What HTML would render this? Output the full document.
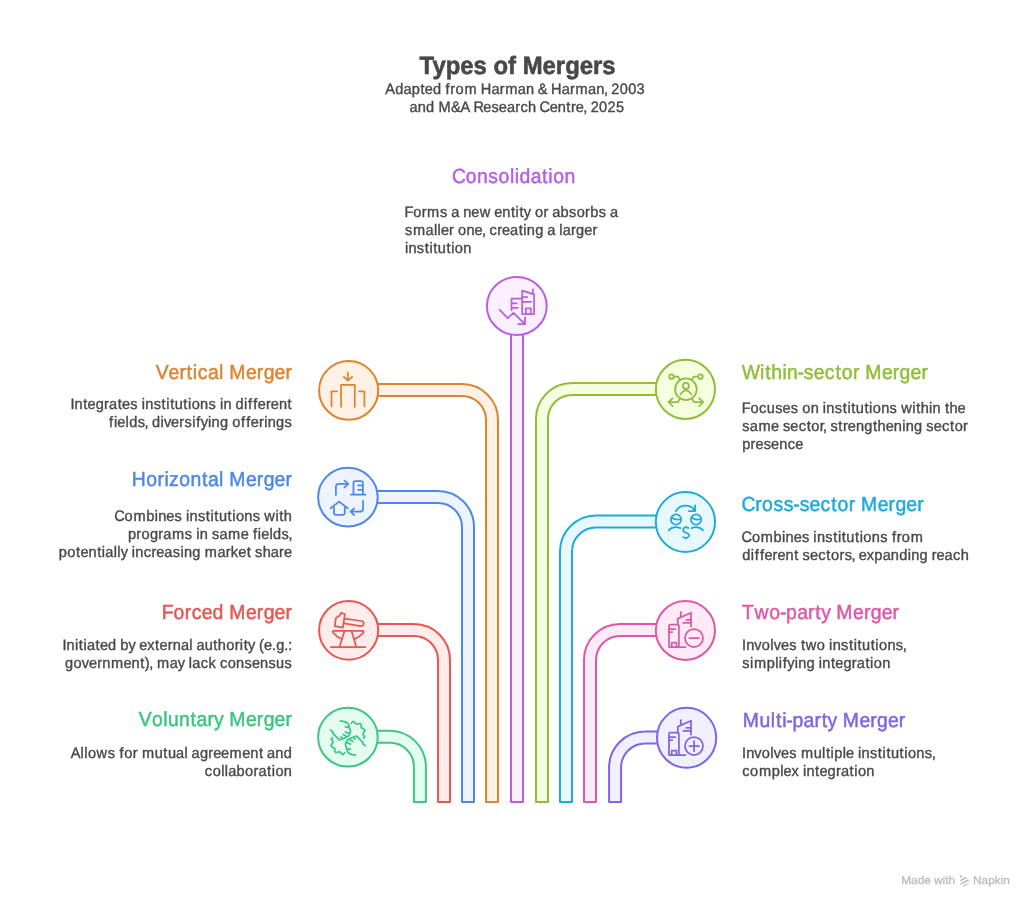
<!DOCTYPE html>
<html lang="en">
<head>
<meta charset="utf-8">
<title>Types of Mergers</title>
<style>
html,body{margin:0;padding:0;background:#fff;}
body{width:1034px;height:908px;overflow:hidden;}
svg{display:block;will-change:transform;}
text{font-family:"Liberation Sans", Arial, sans-serif;text-rendering:geometricPrecision;}
.pipe{stroke-width:2;stroke-linejoin:round;stroke-linecap:round;}
.ic{fill:none;stroke-width:1.75;stroke-linecap:round;stroke-linejoin:round;}
.b{font-size:15.1px;fill:#484848;stroke:#484848;stroke-width:0.38px;}
.h{font-size:20.4px;stroke-width:0.5px;}
.w{font-size:11.2px;fill:#bbbbbb;stroke:#bbbbbb;stroke-width:0.3px;}
.t{font-size:25px;font-weight:bold;fill:#484848;stroke:#484848;stroke-width:0.6px;}
</style>
</head>
<body>
<svg width="1034" height="908" viewBox="0 0 1034 908">
<rect width="1034" height="908" fill="#ffffff"/>
<g id="pipes">
<path class="pipe" d="M348,730.8 H389.9 A36,36 0 0 1 425.9,766.8 V802 H413.9 V766.8 A24,24 0 0 0 389.9,742.8 H348" fill="#e5fdf0" stroke="#3cc583"/>
<path class="pipe" d="M348,624 H414 A36,36 0 0 1 450,660 V802 H438 V660 A24,24 0 0 0 414,636 H348" fill="#ffeceb" stroke="#e55753"/>
<path class="pipe" d="M348,491 H438 A36,36 0 0 1 474,527 V802 H462 V527 A24,24 0 0 0 438,503 H348" fill="#edf4ff" stroke="#4e88e7"/>
<path class="pipe" d="M348,384 H462 A36,36 0 0 1 498,420 V802 H486 V420 A24,24 0 0 0 462,396 H348" fill="#fff1e4" stroke="#de8431"/>
<path class="pipe" d="M511,306 V802 H523 V306" fill="#faf0ff" stroke="#ba5de5"/>
<path class="pipe" d="M686,382.9 H572 A36,36 0 0 0 536,418.9 V802 H548 V418.9 A24,24 0 0 1 572,394.9 H686" fill="#f5fedf" stroke="#92bd39"/>
<path class="pipe" d="M686,515.4 H596 A36,36 0 0 0 560,551.4 V802 H572 V551.4 A24,24 0 0 1 596,527.4 H686" fill="#e8f8ff" stroke="#1eabda"/>
<path class="pipe" d="M686,624 H620 A36,36 0 0 0 584,660 V802 H596 V660 A24,24 0 0 1 620,636 H686" fill="#feebf6" stroke="#de58a9"/>
<path class="pipe" d="M686,731.4 H645.1 A36,36 0 0 0 609.1,767.4 V802 H621.1 V767.4 A24,24 0 0 1 645.1,743.4 H686" fill="#f1f0ff" stroke="#7f64ea"/>
</g>
<g id="nodes">
<ellipse cx="347.9" cy="737.2" rx="29.8" ry="29.4" fill="#e5fdf0" stroke="#3cc583" stroke-width="2"/>
<g class="ic" stroke="#3cc583"><g transform="translate(328,718) scale(0.044053)" stroke-width="39.73"><path d="M280,68 C291.7,69.2 326.7,69.7 350,75 C373.3,80.3 400.3,87.5 420,100 C439.7,112.5 458.0,132.5 468,150 C478.0,167.5 472.7,180.0 480,205 C487.3,230.0 512.3,268.3 512,300 C511.7,331.7 490.0,374.2 478,395 C466.0,415.8 463.0,412.5 440,425 C417.0,437.5 370.3,458.3 340,470 C309.7,481.7 271.7,490.8 258,495 M258,495 L110,350 L122,325 L60,275 M398,200 L478,212 M395,315 L478,352 M345,375 L425,418 M295,430 L335,470"/><path d="M530,120 C537.5,112.5 559.2,73.7 575,75 C590.8,76.3 610.0,117.7 625,128 C640.0,138.3 647.8,137.5 665,137 C682.2,136.5 712.8,121.2 728,125 C743.2,128.8 752.0,145.0 756,160 C760.0,175.0 744.7,200.8 752,215 C759.3,229.2 785.3,233.8 800,245 C814.7,256.2 839.7,266.5 840,282 C840.3,297.5 808.7,321.3 802,338 C795.3,354.7 794.5,367.5 800,382 C805.5,396.5 833.3,412.8 835,425 C836.7,437.2 814.2,450.0 810,455"/><g transform="rotate(180 454 454)"><path d="M280,68 C291.7,69.2 326.7,69.7 350,75 C373.3,80.3 400.3,87.5 420,100 C439.7,112.5 458.0,132.5 468,150 C478.0,167.5 472.7,180.0 480,205 C487.3,230.0 512.3,268.3 512,300 C511.7,331.7 490.0,374.2 478,395 C466.0,415.8 463.0,412.5 440,425 C417.0,437.5 370.3,458.3 340,470 C309.7,481.7 271.7,490.8 258,495 M258,495 L110,350 L122,325 L60,275 M398,200 L478,212 M395,315 L478,352 M345,375 L425,418 M295,430 L335,470"/><path d="M530,120 C537.5,112.5 559.2,73.7 575,75 C590.8,76.3 610.0,117.7 625,128 C640.0,138.3 647.8,137.5 665,137 C682.2,136.5 712.8,121.2 728,125 C743.2,128.8 752.0,145.0 756,160 C760.0,175.0 744.7,200.8 752,215 C759.3,229.2 785.3,233.8 800,245 C814.7,256.2 839.7,266.5 840,282 C840.3,297.5 808.7,321.3 802,338 C795.3,354.7 794.5,367.5 800,382 C805.5,396.5 833.3,412.8 835,425 C836.7,437.2 814.2,450.0 810,455"/></g></g></g>
<ellipse cx="348.65" cy="630.35" rx="29.55" ry="29.4" fill="#ffeceb" stroke="#e55753" stroke-width="2"/>
<g class="ic" stroke="#e55753"><path d="M330.7,647 H365.4"/><path d="M333.7,630.9 H362.65 M333.7,630.9 Q332.3,630.9 332.9,632.5 Q336.3,636.6 341.4,638.9 M362.65,630.9 Q364.1,630.9 363.5,632.5 Q360.1,636.6 355,638.9"/><path d="M344.5,630.9 L339.5,647 M351.6,630.9 L356.3,647"/><path d="M340.9,612.9 L344.9,614 L342.9,627.6 L334.8,626.2 L335.9,617.9 L339.8,615.5 Z"/><path d="M344.6,618.6 L361.5,621 Q364.2,621.6 363.7,623.9 Q363.2,626.4 360.7,626.2 L344.0,623.3"/></g>
<ellipse cx="347.9" cy="497.2" rx="29.8" ry="29.4" fill="#edf4ff" stroke="#4e88e7" stroke-width="2"/>
<g class="ic" stroke="#4e88e7"><path d="M335.9,495 V486.8 Q335.9,483.85 338.9,483.85 H348.3 M344.5,480.7 L348.3,483.85 L344.5,487.3"/><path d="M353.45,494.5 V483 Q353.45,481.15 355.3,481.15 H361 Q362.9,481.15 362.9,483 V494.5 M350.8,494.5 H365.4 M358.2,485.4 H362.9 M358.2,489.8 H362.9"/><path d="M330.7,508.2 L339.1,501.6 L347.8,508.2 M334,505.7 V513.3 Q334,514.85 335.5,514.85 H343.2 Q344.75,514.85 344.75,513.3 V505.8"/><path d="M363.1,500.8 V508.5 Q363.1,511.5 360.1,511.5 H350.5 M354.1,508.5 L350.5,511.5 L354.1,515.1"/></g>
<ellipse cx="348.65" cy="390.4" rx="29.55" ry="29.4" fill="#fff1e4" stroke="#de8431" stroke-width="2"/>
<g class="ic" stroke="#de8431"><path d="M347.9,372.7 V380.7 M343.9,376.8 L347.9,380.7 L352.2,376.8"/><path d="M341.1,406.8 V384.8 H354.8 V406.8"/><path d="M331.5,406.3 V391.3 H337"/><path d="M364.4,406.3 V391.3 H359"/></g>
<ellipse cx="516.8" cy="306.0" rx="29.9" ry="29.0" fill="#faf0ff" stroke="#ba5de5" stroke-width="2"/>
<g class="ic" stroke="#ba5de5"><path d="M522.2,314 V290.6 L534.1,294.3 V314 Z"/><path d="M532.9,289.3 V293.8"/><path d="M522.2,297.2 H527.2 M522.2,301.8 H531.1"/><path d="M525.9,314 V308.3 H530.8 V314"/><path d="M511.5,310.2 V298.6 H522.2 M511.5,303.3 H516.8 M511.5,307.8 H517.9"/><path d="M499.7,309.9 L507.7,318.2 L513.5,312.8 L525,324.2 M518.2,324.2 H525 V317.3"/></g>
<ellipse cx="685.4" cy="389.35" rx="29.6" ry="29.55" fill="#f5fedf" stroke="#92bd39" stroke-width="2"/>
<g class="ic" stroke="#92bd39"><circle cx="685.9" cy="389.2" r="10.8"/><circle cx="685.9" cy="385.9" r="3"/><path d="M680.5,394.4 Q685.9,386.1 691.4,394.4"/><circle cx="671.5" cy="376.7" r="2.25"/><path d="M673.9,376.7 H678.1 L680.2,380.2"/><circle cx="700.5" cy="376.7" r="2.25"/><path d="M698.1,376.7 H693.8 L691.6,380.2"/><path d="M680,398.4 L678.1,402 H668.7 M672.5,398.3 L668.7,402 L672.5,406"/><path d="M691.8,398.4 L694,402 H703.1 M699.3,398.3 L703.1,402 L699.3,406"/></g>
<ellipse cx="685.4" cy="522.0" rx="29.6" ry="29.9" fill="#e8f8ff" stroke="#1eabda" stroke-width="2"/>
<g class="ic" stroke="#1eabda"><path d="M675.8,511.3 A11.3,11.3 0 0 1 695.1,511 M695.1,505.3 V511 H688.8"/><circle cx="676" cy="519.6" r="5.15"/><path d="M671.6,517.3 C674,519.5 678,520 681.2,519"/><path d="M668.7,530.3 Q673.5,525.6 680.3,528.1"/><circle cx="696.1" cy="519.6" r="5.15"/><path d="M691.7,517.3 C694,519.5 698,520 701.3,519"/><path d="M691.6,528.1 Q698.4,525.6 703.1,530.3"/><path d="M688.5,528 C686,526.5 683,527.5 683,530 C683,533 689.1,532.5 689.1,535.3 C689.1,538 686,538.3 683.3,537.2 M685.8,526.6 V527.1 M685.8,538 V538.5"/></g>
<ellipse cx="685.4" cy="630.5" rx="29.6" ry="29.4" fill="#feebf6" stroke="#de58a9" stroke-width="2"/>
<g class="ic" stroke="#de58a9"><path d="M669,647.10 V626.00 Q669,624.50 670.5,624.50 H677.4 Q678.9,624.50 678.9,626.00 V647.10 M669,647.10 H685.5"/><path d="M669,629.06 H675.3 M669,632.00 H672.3"/><path d="M671.7,647.10 V642.70 H676.4 V647.10"/><path d="M677.8,624.50 V618.60 L691,612.70 V626.50"/><path d="M680.8,612.20 V616.80"/><path d="M686.3,619.90 H691 M683.3,622.90 H691"/><circle cx="694" cy="638.00" r="9"/><path d="M689.4,638.00 H699"/></g>
<ellipse cx="686.6" cy="737.8" rx="29.6" ry="30.0" fill="#f1f0ff" stroke="#7f64ea" stroke-width="2"/>
<g class="ic" stroke="#7f64ea"><path d="M669,755.10 V734.00 Q669,732.50 670.5,732.50 H677.4 Q678.9,732.50 678.9,734.00 V755.10 M669,755.10 H685.5"/><path d="M669,737.06 H675.3 M669,740.00 H672.3"/><path d="M671.7,755.10 V750.70 H676.4 V755.10"/><path d="M677.8,732.50 V726.60 L691,720.70 V734.50"/><path d="M680.8,720.20 V724.80"/><path d="M686.3,727.90 H691 M683.3,730.90 H691"/><circle cx="694" cy="746.00" r="9"/><path d="M689.4,746.00 H699"/><path d="M694.1,741.2 V751.2"/></g>
</g>
<g id="labels">
<text class="t" x="419.61" y="73.70" textLength="196.02" lengthAdjust="spacingAndGlyphs">Types of Mergers</text>
<text class="b" transform="scale(0.965,1)" x="399.21 409.50 418.11 426.69 435.69 440.25 448.75 457.16 461.78 466.69 472.07 481.22 494.15 498.27 509.29 517.83 523.50 536.63 545.15 553.46 557.28 566.97 571.08 582.11 590.65 596.32 609.45 617.96 625.88 629.33 633.51 642.24 650.97 659.70" y="93.80">Adapted from Harman &amp; Harman, 2003</text>
<text class="b" transform="scale(0.965,1)" x="424.38 432.90 441.57 449.98 454.49 467.36 477.27 487.20 490.55 500.71 509.26 516.96 525.30 533.85 539.28 547.21 555.51 559.14 569.57 577.98 586.91 591.66 596.72 604.46 607.91 612.10 620.83 629.56 638.29" y="111.80">and M&amp;A Research Centre, 2025</text>
<text class="h" transform="scale(0.95,1)" x="475.80 490.35 502.16 513.97 524.83 536.79 541.90 546.98 558.65 570.65 577.21 582.36 594.17" y="182.95" fill="#ba5de5" stroke="#ba5de5">Consolidation</text>
<text class="b" transform="scale(0.965,1)" x="419.06 428.20 436.95 442.62 455.95 463.56 467.61 475.86 479.97 488.38 497.08 508.20 512.14 520.54 529.47 534.32 538.32 542.86 550.14 554.39 563.14 568.11 572.16 580.75 589.54 597.56 606.30 611.61 620.40 628.01 632.06" y="216.60">Forms a new entity or absorbs a</text>
<text class="b" transform="scale(0.965,1)" x="419.61 427.92 441.05 449.68 453.45 456.93 465.37 470.34 474.59 483.31 491.72 499.46 502.91 507.23 515.19 520.25 528.59 537.46 542.31 545.96 554.61 562.99 567.04 575.30 579.53 583.12 591.66 596.97 605.45 613.88" y="234.60">smaller one, creating a larger</text>
<text class="b" transform="scale(0.965,1)" x="419.59 423.24 431.96 440.18 445.03 449.03 453.75 462.68 467.52 471.32 480.04" y="252.60">institution</text>
<text class="h" transform="scale(0.95,1)" x="164.07 177.47 188.89 196.45 203.01 208.24 218.90 230.59 235.18 241.32 258.91 270.32 277.51 289.00 300.41" y="378.65" fill="#de8431" stroke="#de8431">Vertical Merger</text>
<text class="b" transform="scale(0.965,1)" x="72.95 77.25 86.18 90.74 99.21 107.89 113.06 121.93 126.49 135.03 142.64 146.87 150.53 159.25 167.47 172.31 176.32 181.04 189.97 194.81 198.61 207.33 216.05 223.66 227.89 231.54 239.85 244.06 252.85 257.01 262.41 267.13 275.56 280.62 289.03 297.95" y="409.40">Integrates institutions in different</text>
<text class="b" transform="scale(0.965,1)" x="113.08 118.08 121.57 130.09 133.84 142.65 149.86 153.31 157.52 166.31 169.86 177.32 185.75 191.13 199.12 203.29 207.98 215.64 219.30 227.95 236.33 240.59 249.82 255.22 259.93 268.36 273.72 277.37 286.02 294.81" y="427.40">fields, diversifying offerings</text>
<text class="h" transform="scale(0.95,1)" x="138.80 154.01 165.85 173.10 178.03 188.68 200.49 212.58 218.90 230.59 235.18 241.32 258.91 270.32 277.51 289.00 300.41" y="486.45" fill="#4e88e7" stroke="#4e88e7">Horizontal Merger</text>
<text class="b" transform="scale(0.965,1)" x="118.32 129.07 138.22 151.49 160.25 163.91 172.31 180.86 188.47 192.70 196.35 205.07 213.30 218.14 222.15 226.87 235.79 240.64 244.44 253.16 261.88 269.48 273.89 285.39 289.39 294.11" y="520.60">Combines institutions with</text>
<text class="b" transform="scale(0.965,1)" x="132.60 141.28 146.66 155.45 164.12 169.30 178.24 191.58 199.19 203.42 207.07 215.38 219.64 227.45 236.40 249.42 257.56 262.18 267.19 270.67 279.19 282.94 291.76 298.97" y="538.60">programs in same fields,</text>
<text class="b" transform="scale(0.965,1)" x="60.95 69.75 78.82 83.37 91.78 100.71 105.55 109.15 117.78 121.55 125.02 132.30 136.53 140.18 148.96 156.92 161.98 170.33 178.99 186.98 190.63 199.28 207.67 212.21 225.34 233.88 239.19 246.82 255.58 260.04 264.30 272.16 280.67 289.21 294.27" y="556.60">potentially increasing market share</text>
<text class="h" transform="scale(0.95,1)" x="170.19 182.57 194.41 201.78 212.29 223.80 235.18 241.32 258.91 270.32 277.51 289.00 300.41" y="619.25" fill="#e55753" stroke="#e55753">Forced Merger</text>
<text class="b" transform="scale(0.965,1)" x="64.65 68.95 77.65 81.65 86.50 90.09 98.96 103.51 112.01 120.42 124.60 133.06 140.34 144.28 152.68 160.74 165.30 173.73 178.97 187.48 196.12 199.51 203.56 212.07 220.99 225.71 234.42 243.17 248.52 252.53 257.07 264.35 268.51 273.61 281.87 286.18 294.68 298.61" y="649.80">Initiated by external authority (e.g.:</text>
<text class="b" transform="scale(0.965,1)" x="67.38 76.17 84.79 92.25 100.68 105.91 114.92 127.94 136.35 145.28 150.10 154.74 158.19 162.74 175.87 184.20 191.48 195.71 199.30 208.02 216.03 223.57 227.88 235.96 244.68 253.40 261.10 269.50 278.22 286.09 294.81" y="667.80">government), may lack consensus</text>
<text class="h" transform="scale(0.95,1)" x="146.16 159.99 171.96 176.91 188.52 200.60 206.93 218.49 225.33 235.18 241.32 258.91 270.32 277.51 289.00 300.41" y="726.45" fill="#3cc583" stroke="#3cc583">Voluntary Merger</text>
<text class="b" transform="scale(0.965,1)" x="73.19 83.51 87.28 91.07 100.09 111.61 119.22 123.84 128.87 137.62 142.59 147.13 160.32 169.25 173.97 182.48 191.11 194.50 198.55 207.14 215.82 220.88 229.12 237.95 250.97 259.38 268.31 272.77 276.82 285.34 294.01" y="757.80">Allows for mutual agreement and</text>
<text class="b" transform="scale(0.965,1)" x="212.29 220.37 229.21 232.98 236.57 245.16 253.95 262.70 267.87 276.74 281.59 285.38 294.10" y="775.80">collaboration</text>
<text class="h" transform="scale(0.95,1)" x="780.76 800.02 805.44 811.84 823.60 828.56 839.54 846.17 856.60 868.26 879.48 886.08 897.92 904.65 910.79 928.38 939.79 946.98 958.46 969.88" y="378.65" fill="#92bd39" stroke="#92bd39">Within-sector Merger</text>
<text class="b" transform="scale(0.965,1)" x="768.60 777.74 786.66 794.59 803.31 811.01 819.56 827.17 831.42 840.14 848.45 852.69 856.34 865.06 873.28 878.13 882.13 886.85 895.78 900.62 904.42 913.14 921.86 929.47 933.87 945.37 949.38 954.10 962.78 966.44 974.75 979.21 983.93 992.33" y="412.80">Focuses on institutions within the</text>
<text class="b" transform="scale(0.965,1)" x="769.14 776.96 785.90 798.92 807.07 811.32 819.02 827.63 835.92 840.79 849.53 852.86 856.31 860.57 868.79 873.54 878.60 887.01 895.66 904.66 909.38 917.78 926.18 934.88 938.53 947.18 955.56 959.82 967.52 976.13 984.41 989.28 998.03" y="430.80">same sector, strengthening sector</text>
<text class="b" transform="scale(0.965,1)" x="769.07 777.75 782.81 791.36 799.06 807.47 816.25 824.01" y="448.80">presence</text>
<text class="h" transform="scale(0.95,1)" x="780.54 794.92 802.21 814.21 825.07 835.10 841.73 852.16 863.82 875.04 881.64 893.48 900.21 906.35 923.94 935.35 942.54 954.02 965.44" y="510.65" fill="#1eabda" stroke="#1eabda">Cross-sector Merger</text>
<text class="b" transform="scale(0.965,1)" x="768.52 779.26 788.42 801.68 810.45 814.10 822.51 831.05 838.66 842.89 846.55 855.27 863.49 868.34 872.34 877.06 885.99 890.83 894.63 903.35 912.07 919.68 924.30 929.21 934.59 943.74" y="541.90">Combines institutions from</text>
<text class="b" transform="scale(0.965,1)" x="769.10 777.89 782.05 787.45 792.16 800.59 805.66 814.06 822.99 827.45 831.71 839.41 848.02 856.30 861.17 869.92 875.30 882.51 885.96 889.90 898.29 906.08 914.67 923.18 931.85 940.64 944.30 952.95 961.33 965.47 970.53 978.88 987.60 995.52" y="559.90">different sectors, expanding reach</text>
<text class="h" transform="scale(0.95,1)" x="781.10 794.15 809.75 820.94 827.47 839.10 850.67 858.23 864.38 874.24 880.37 897.96 909.37 916.57 928.05 939.46" y="618.95" fill="#de58a9" stroke="#de58a9">Two-party Merger</text>
<text class="b" transform="scale(0.965,1)" x="768.93 773.23 781.71 789.48 798.32 801.87 809.33 817.88 825.49 829.95 834.97 846.49 854.95 859.18 862.83 871.55 879.78 884.62 888.63 893.35 902.27 907.12 910.92 919.64 928.36 935.57" y="649.80">Involves two institutions,</text>
<text class="b" transform="scale(0.965,1)" x="769.14 777.14 781.22 794.48 803.25 807.02 811.19 815.89 823.55 827.20 835.85 844.23 848.47 852.12 861.05 865.60 874.08 882.75 887.93 896.79 901.64 905.44 914.16" y="667.80">simplifying integration</text>
<text class="h" transform="scale(0.95,1)" x="781.75 799.56 811.33 816.75 823.31 827.64 834.17 845.81 857.37 864.93 871.09 880.94 887.07 904.66 916.08 923.27 934.75 946.16" y="726.65" fill="#7f64ea" stroke="#7f64ea">Multi-party Merger</text>
<text class="b" transform="scale(0.965,1)" x="768.93 773.23 781.71 789.48 798.32 801.87 809.33 817.88 825.49 830.03 843.22 851.91 855.92 860.76 864.49 873.25 876.74 884.88 889.11 892.76 901.48 909.70 914.55 918.55 923.28 932.20 937.05 940.84 949.56 958.28 965.49" y="757.80">Involves multiple institutions,</text>
<text class="b" transform="scale(0.965,1)" x="769.21 777.28 786.44 799.70 808.47 811.95 820.34 827.80 832.03 835.68 844.61 849.16 857.64 866.31 871.49 880.35 885.20 889.00 897.72" y="775.80">complex integration</text>
</g>
<g id="watermark"><text class="w" x="901.27" y="884.00" textLength="53.82" lengthAdjust="spacingAndGlyphs">Made with</text><g fill="#bdbdbd" stroke="none"><path d="M960,875.1 L963.1,876.4 L960,877.7 Z"/><path d="M960,879.9 L964.8,877 L967.1,878 L960.1,881.6 Z"/><path d="M960.2,883.4 L967.7,879.2 L969.9,880.3 L960.7,885 Z"/><path d="M962.9,885.7 L968.6,882.4 L969,882.9 L963.6,886.9 Z"/></g><text class="w" x="973.09" y="884.00" textLength="36.75" lengthAdjust="spacingAndGlyphs">Napkin</text></g>
</svg>
</body>
</html>
